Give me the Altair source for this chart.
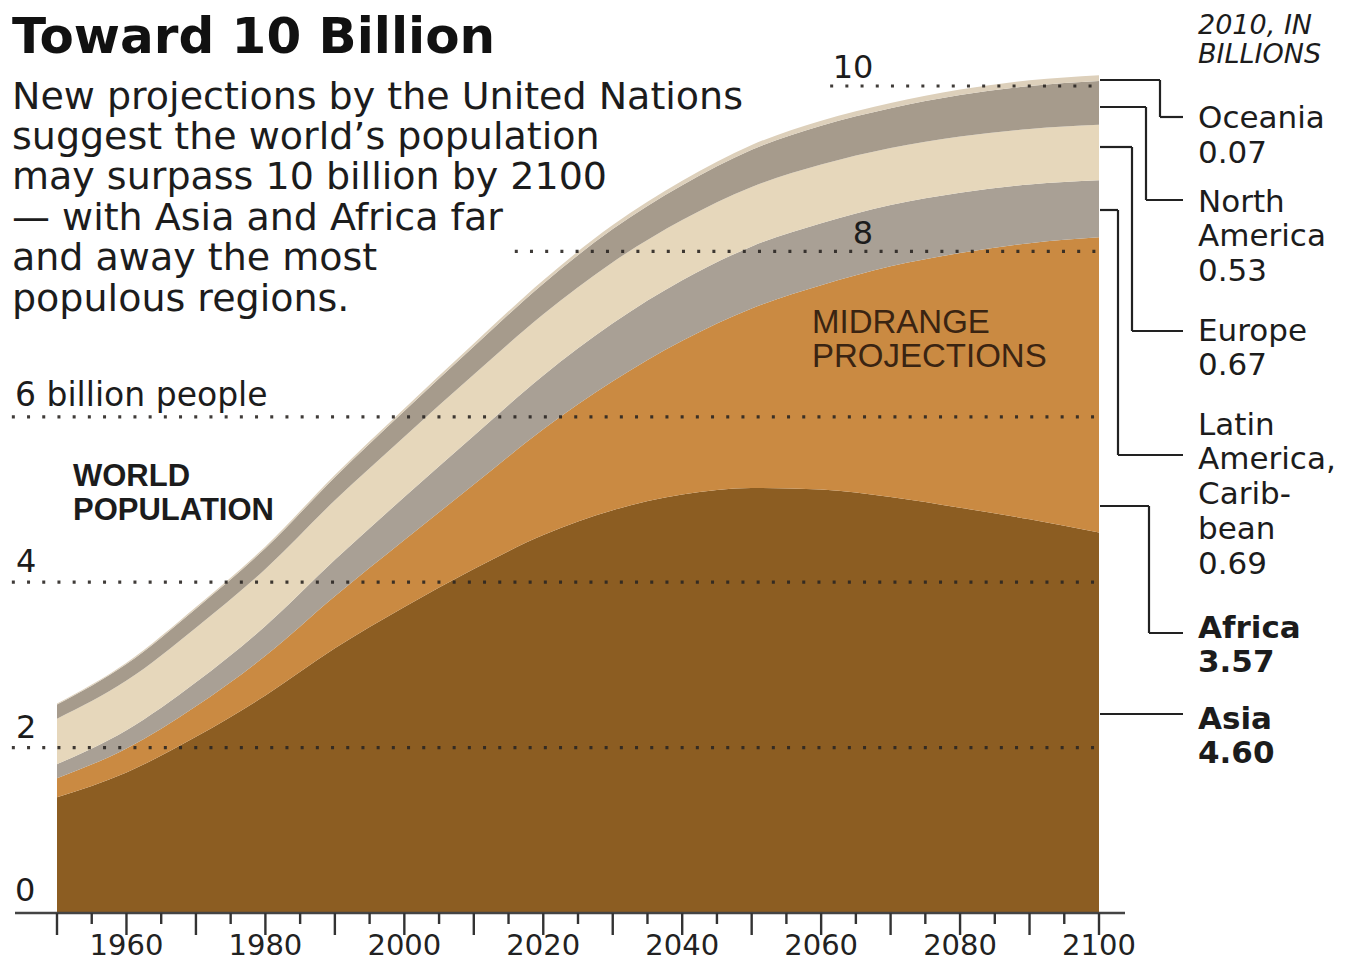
import altair as alt
import pandas as pd

# ---------------- data (billions) ----------------
years = [1950, 1960, 1970, 1980, 1990, 2000, 2010, 2020, 2030, 2040, 2050, 2060, 2070, 2080, 2090, 2100]
asia = [1.40, 1.70, 2.13, 2.63, 3.20, 3.70, 4.16, 4.57, 4.87, 5.06, 5.14, 5.12, 5.03, 4.90, 4.76, 4.60]
africa = [0.23, 0.29, 0.37, 0.48, 0.63, 0.81, 1.02, 1.28, 1.56, 1.86, 2.17, 2.47, 2.79, 3.08, 3.34, 3.57]
latin_america = [0.17, 0.22, 0.29, 0.36, 0.44, 0.52, 0.59, 0.65, 0.70, 0.73, 0.75, 0.75, 0.74, 0.73, 0.71, 0.69]
europe = [0.55, 0.60, 0.66, 0.69, 0.72, 0.73, 0.74, 0.74, 0.74, 0.73, 0.72, 0.71, 0.69, 0.68, 0.67, 0.67]
north_america = [0.17, 0.20, 0.23, 0.25, 0.28, 0.31, 0.34, 0.37, 0.40, 0.42, 0.45, 0.47, 0.48, 0.50, 0.52, 0.53]
oceania = [0.013, 0.016, 0.020, 0.023, 0.027, 0.031, 0.037, 0.042, 0.048, 0.053, 0.057, 0.061, 0.064, 0.067, 0.069, 0.070]

regions = ["Asia", "Africa", "Latin America", "Europe", "North America", "Oceania"]
series = [asia, africa, latin_america, europe, north_america, oceania]
region_colors = ["#8C5D22", "#CA8A42", "#A9A095", "#E6D7BB", "#A69B8C", "#DDD0BB"]

grid_values = [2, 4, 6, 8, 10]
grid_start = [1943.5, 1943.5, 1943.5, 2015.9, 2061.3]

major_ticks = list(range(1950, 2101, 10))
minor_ticks = list(range(1955, 2100, 10))
label_years = list(range(1960, 2101, 20))

# ---------------- geometry ----------------
W, H = 1042, 827
PAD_L, PAD_T, PAD_R, PAD_B = 49, 78, 251, 52
X0_PAGE, Y0_PAGE = 8 + PAD_L, 8 + PAD_T  # page position of plot origin


def year_at(px):
    return 1950 + (px - X0_PAGE) * 150.0 / W


def val_at(py):
    return (Y0_PAGE + H - py) * 10.0 / H


xs = alt.Scale(domain=[1950, 2100], nice=False, zero=False)
ys = alt.Scale(domain=[0, 10], nice=False, zero=True)

rows = []
for i, (r, s) in enumerate(zip(regions, series)):
    for y, v in zip(years, s):
        rows.append({"year": y, "region": r, "idx": i, "value": v})
df = pd.DataFrame(rows)

areas = alt.Chart(df).mark_area(interpolate="monotone").encode(
    x=alt.X("year:Q", scale=xs, axis=None),
    y=alt.Y("value:Q", stack="zero", scale=ys, axis=None),
    color=alt.Color("region:N", scale=alt.Scale(domain=regions, range=region_colors), legend=None),
    order=alt.Order("idx:Q", sort="ascending"),
)

grid_df = pd.DataFrame({"v": grid_values, "x0": grid_start, "x1": [2100] * len(grid_values)})
grid = alt.Chart(grid_df).mark_rule(color="#2a2622", strokeWidth=3.2, strokeDash=[3, 12.2], opacity=0.9).encode(
    x=alt.X("x0:Q", scale=xs, axis=None),
    x2="x1:Q",
    y=alt.Y("v:Q", scale=ys, axis=None),
)

base_df = pd.DataFrame({"x0": [year_at(15)], "x1": [year_at(1125)], "v": [0]})
baseline = alt.Chart(base_df).mark_rule(color="#444444", strokeWidth=2.5).encode(
    x=alt.X("x0:Q", scale=xs, axis=None), x2="x1:Q", y=alt.Y("v:Q", scale=ys, axis=None)
)

maj = alt.Chart(pd.DataFrame({"year": major_ticks})).mark_rule(color="#333333", strokeWidth=2.4).encode(
    x=alt.X("year:Q", scale=xs, axis=None), y=alt.value(H), y2=alt.value(H + 22)
)
mnr = alt.Chart(pd.DataFrame({"year": minor_ticks})).mark_rule(color="#333333", strokeWidth=2.4).encode(
    x=alt.X("year:Q", scale=xs, axis=None), y=alt.value(H), y2=alt.value(H + 11)
)
lab_df = pd.DataFrame({"year": label_years, "label": [str(y) for y in label_years]})
ylabels = alt.Chart(lab_df).mark_text(font="DejaVu Sans", fontSize=29, color="#222222",
                                      align="center", baseline="middle").encode(
    x=alt.X("year:Q", scale=xs, axis=None), y=alt.value(946 - Y0_PAGE), text="label:N"
)

# leader lines (page pixel paths converted to data units)
leader_paths = [
    [(1100, 80), (1160, 80), (1160, 117), (1183, 117)],
    [(1100, 107), (1146, 107), (1146, 200), (1183, 200)],
    [(1100, 147), (1132, 147), (1132, 331), (1183, 331)],
    [(1100, 210), (1118, 210), (1118, 455), (1183, 455)],
    [(1100, 506), (1149, 506), (1149, 633), (1183, 633)],
    [(1100, 714), (1183, 714)],
]
segs = []
for path in leader_paths:
    for (ax, ay), (bx, by) in zip(path[:-1], path[1:]):
        segs.append({"x0": year_at(ax), "x1": year_at(bx), "y0": val_at(ay), "y1": val_at(by)})
leaders = alt.Chart(pd.DataFrame(segs)).mark_rule(color="#222222", strokeWidth=2.2).encode(
    x=alt.X("x0:Q", scale=xs, axis=None), x2="x1:Q",
    y=alt.Y("y0:Q", scale=ys, axis=None), y2="y1:Q",
)

one = pd.DataFrame({"a": [0]})


def txt(lines, px, center_y, size, weight="normal", style="normal", font="DejaVu Sans",
        color="#1c1c1c", lh=None, align="left"):
    kw = dict(text=lines, font=font, fontSize=size, fontWeight=weight, fontStyle=style,
              color=color, align=align, baseline="top")
    if lh is not None:
        kw["lineHeight"] = lh
    top = center_y - 0.43 * size
    return alt.Chart(one).mark_text(**kw).encode(
        x=alt.value(px - X0_PAGE), y=alt.value(top - Y0_PAGE)
    )


texts = [
    txt("Toward 10 Billion", 12, 34, 50, weight="bold", color="#111111"),
    txt(["New projections by the United Nations",
         "suggest the world\u2019s population",
         "may surpass 10 billion by 2100",
         "\u2014 with Asia and Africa far",
         "and away the most",
         "populous regions."], 12, 95, 38, lh=40.4),
    txt("6 billion people", 15, 394, 33),
    txt(["WORLD", "POPULATION"], 73, 475, 31, weight="bold", font="Liberation Sans", lh=34),
    txt(["MIDRANGE", "PROJECTIONS"], 812, 321, 33, font="Liberation Sans", color="#3a2412", lh=34),
    txt("0", 15, 890, 32),
    txt("2", 16, 727, 32),
    txt("4", 16, 561, 32),
    txt("8", 863, 233, 32, align="center"),
    txt("10", 853, 67, 32, align="center"),
    txt(["2010, IN", "BILLIONS"], 1198, 25, 27, style="italic", lh=29),
    txt(["Oceania", "0.07"], 1198, 117, 31, lh=35),
    txt(["North", "America", "0.53"], 1198, 201, 31, lh=34.5),
    txt(["Europe", "0.67"], 1198, 330, 31, lh=34),
    txt(["Latin", "America,", "Carib-", "bean", "0.69"], 1198, 424, 31, lh=34.75),
    txt(["Africa", "3.57"], 1198, 627, 31, weight="bold", lh=34),
    txt(["Asia", "4.60"], 1198, 718, 31, weight="bold", lh=34),
]

chart = alt.layer(areas, grid, baseline, maj, mnr, ylabels, leaders, *texts).properties(
    width=W, height=H,
    padding={"left": PAD_L, "top": PAD_T, "right": PAD_R, "bottom": PAD_B},
    autosize=alt.AutoSizeParams(type="none"),
    background="white",
).configure_view(stroke=None)

chart.save("out.html", embed_options={"renderer": "svg", "actions": False})
